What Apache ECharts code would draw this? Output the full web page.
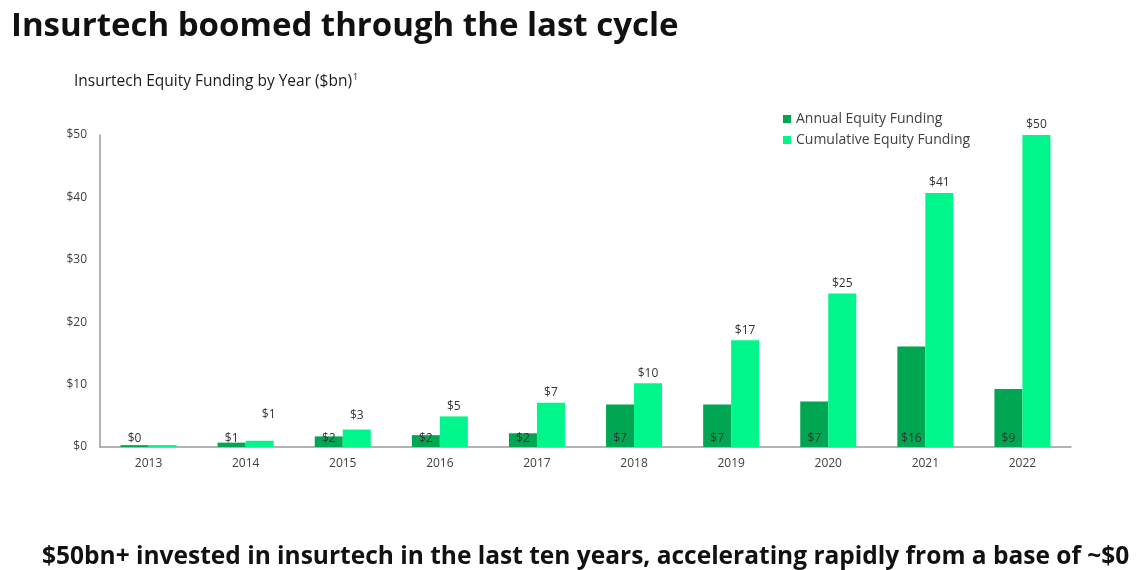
<!DOCTYPE html>
<html>
<head>
<meta charset="utf-8">
<script src="https://cdn.jsdelivr.net/npm/echarts@6/dist/echarts.min.js"></script>
<style>
html,body{margin:0;padding:0;background:#fff;}
#chart{width:1140px;height:570px;}
</style>
</head>
<body>
<div id="chart"></div>
<script>
const years = ['2013','2014','2015','2016','2017','2018','2019','2020','2021','2022'];
const annualFunding = [0.3, 0.7, 1.7, 1.9, 2.2, 6.8, 6.8, 7.3, 16.1, 9.3];
const cumulativeFunding = [0.3, 1.0, 2.8, 4.9, 7.1, 10.2, 17.1, 24.6, 40.7, 50.2];
const annualLabels = ['$0','$1','$2','$2','$2','$7','$7','$7','$16','$9'];
const cumulativeLabels = ['','$1','$3','$5','$7','$10','$17','$25','$41','$50'];
const yTicks = [0, 10, 20, 30, 40, 50];

const FONT = '"Open Sans"';
const DARK = '#00a651';
const BRIGHT = '#00f58a';
const TXT = '#404040';

// per-label nudges (styling only)
const cumLabelNudge = {1: [9, -16], 2: [0, -4]};

const chart = echarts.init(document.getElementById('chart'));
chart.setOption({
  backgroundColor: '#fff',
  animation: false,
  textStyle: {fontFamily: FONT},
  title: [
    {text: 'Insurtech boomed through the last cycle', left: 6, top: 5,
     textStyle: {fontFamily: FONT, fontWeight: 'bold', fontSize: 33, color: '#111'}},
    {text: '{a|Insurtech Equity Funding by Year ($bn)}{s|1}', left: 69, top: 68,
     textStyle: {rich: {
       a: {fontFamily: FONT, fontSize: 15.5, fontWeight: 'normal', color: '#1a1a1a'},
       s: {fontFamily: FONT, fontSize: 9, fontWeight: 'normal', color: '#1a1a1a', verticalAlign: 'top', padding: [0,0,8,1]}
     }}},
    {text: '$50bn+ invested in insurtech in the last ten years, accelerating rapidly from a base of ~$0',
     left: 37, top: 540,
     textStyle: {fontFamily: FONT, fontWeight: 'bold', fontSize: 24.5, color: '#111'}}
  ],
  legend: {
    orient: 'vertical', left: 778, top: 107, itemWidth: 8, itemHeight: 8, itemGap: 7,
    icon: 'rect',
    textStyle: {fontFamily: FONT, fontSize: 14, color: TXT},
    data: ['Annual Equity Funding', 'Cumulative Equity Funding']
  },
  grid: {left: 100, right: 69, top: 135, bottom: 123},
  xAxis: {
    type: 'category', data: years,
    axisTick: {show: false},
    axisLine: {lineStyle: {color: '#9a9a9a', width: 1.5}},
    axisLabel: {fontSize: 12, color: TXT, margin: 11, fontFamily: FONT}
  },
  yAxis: {
    type: 'value', min: yTicks[0], max: yTicks[yTicks.length-1], interval: 10,
    axisLine: {show: true, lineStyle: {color: '#9a9a9a', width: 1.5}},
    axisTick: {show: false},
    splitLine: {show: false},
    axisLabel: {fontSize: 12, color: TXT, margin: 13, fontFamily: FONT,
      formatter: v => '$' + v}
  },
  series: [
    {
      name: 'Annual Equity Funding', type: 'bar', barWidth: 28, barGap: '0%',
      itemStyle: {color: DARK},
      data: annualFunding,
      label: {show: true, position: 'insideBottom', distance: 2, fontSize: 12, color: '#333',
        fontFamily: FONT, formatter: p => annualLabels[p.dataIndex]}
    },
    {
      name: 'Cumulative Equity Funding', type: 'bar', barWidth: 28, barGap: '0%',
      itemStyle: {color: BRIGHT},
      data: cumulativeFunding.map((v, i) => cumLabelNudge[i] ? {value: v, label: {offset: cumLabelNudge[i]}} : v),
      label: {show: true, position: 'top', distance: 4, fontSize: 12, color: '#333',
        fontFamily: FONT, formatter: p => cumulativeLabels[p.dataIndex]}
    }
  ]
});
</script>
</body>
</html>
